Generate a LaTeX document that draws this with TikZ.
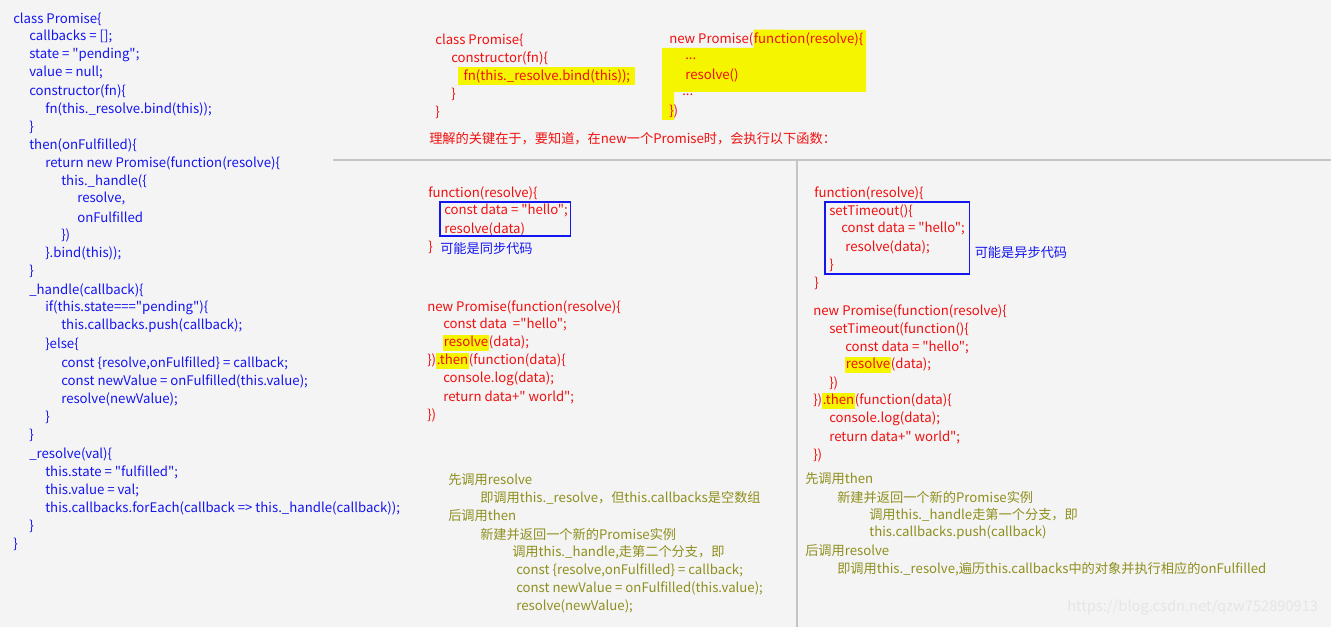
\documentclass[tikz,border=0pt]{standalone}
\usepackage{fontspec}
\setmainfont{Noto Sans CJK SC}[Ligatures=TeXOff]
\definecolor{bg}{HTML}{F4F4F4}
\definecolor{cb}{HTML}{1515F0}
\definecolor{cr}{HTML}{F01010}
\definecolor{co}{HTML}{8F8F1F}
\definecolor{hl}{HTML}{F5F500}
\definecolor{sep}{HTML}{C4C4C4}
\newcommand{\hlt}[1]{{\setlength{\fboxsep}{0.5pt}\colorbox{hl}{\strut #1}}}
\begin{document}
\begin{tikzpicture}[x=0.75pt,y=-0.75pt,
  c/.style={anchor=west,inner sep=0pt,font=\fontsize{9.9}{11}\selectfont},
  b/.style={c,text=cb}, r/.style={c,text=cr}, o/.style={c,text=co}]
\fill[bg] (0,0) rectangle (1331,627);
\useasboundingbox (0,0) rectangle (1331,627);
% separators
\draw[sep,line width=0.9pt] (333,160) coordinate (h1) -- (1331,160) coordinate (h2);
\draw[sep,line width=0.9pt] (797,160) coordinate (v1) -- (797,627) coordinate (v2);
% left column
\node[b] (a1) at (13,19) {class Promise\{};
\node[b] (a2) at (29,37) {callbacks = [];};
\node[b] (a3) at (29,55) {state = "pending";};
\node[b] (a4) at (29,73) {value = null;};
\node[b] (a5) at (29,91) {constructor(fn)\{};
\node[b] (a6) at (45,109) {fn(this.\_resolve.bind(this));};
\node[b] (a7) at (29,127) {\}};
\node[b] (a8) at (29,145) {then(onFulfilled)\{};
\node[b] (a9) at (45,163) {return new Promise(function(resolve)\{};
\node[b] (a10) at (61,181) {this.\_handle(\{};
\node[b] (a11) at (77,199) {resolve,};
\node[b] (a12) at (77,217) {onFulfilled};
\node[b] (a13) at (61,235) {\})};
\node[b] (a14) at (45,253) {\}.bind(this));};
\node[b] (a15) at (29,271) {\}};
\node[b] (a16) at (29,290) {\_handle(callback)\{};
\node[b] (a17) at (45,308) {if(this.state==="pending")\{};
\node[b] (a18) at (61,326) {this.callbacks.push(callback);};
\node[b] (a19) at (45,344) {\}else\{};
\node[b] (a20) at (61,363) {const \{resolve,onFulfilled\} = callback;};
\node[b] (a21) at (61,381) {const newValue = onFulfilled(this.value);};
\node[b] (a22) at (61,399) {resolve(newValue);};
\node[b] (a23) at (45,417) {\}};
\node[b] (a24) at (29,435) {\}};
\node[b] (a25) at (29,454) {\_resolve(val)\{};
\node[b] (a26) at (45,472) {this.state = "fulfilled";};
\node[b] (a27) at (45,490) {this.value = val;};
\node[b] (a28) at (45,508) {this.callbacks.forEach(callback => this.\_handle(callback));};
\node[b] (a29) at (29,526) {\}};
\node[b] (a30) at (13,544) {\}};
% top middle
\node[r] (t1) at (435,40) {class Promise\{};
\node[r] (t2) at (451,58) {constructor(fn)\{};
\node[r,fill=hl,inner xsep=4pt,minimum height=13.5pt] (t3) at (458,76) {fn(this.\_resolve.bind(this));};
\node[r] (t4) at (451,94) {\}};
\node[r] (t5) at (435,112) {\}};
\path (669,39) node[r] (u1) {new Promise(} (u1.east) node[r] (u1b) {\phantom{function(resolve)\{}};
\fill[hl] ([yshift=7pt]u1b.west) -- (866,30) -- (866,92) -- (674,92) -- (674,120) -- (662,120) -- (662,48) -- (u1b.west |- 0,48) -- cycle;
\node[r] at (u1b.west) {function(resolve)\{};
\node[r] (u2) at (685,59) {...};
\node[r] (u3) at (685,75) {resolve()};
\node[r] (u4) at (682,95) {...};
\node[r] (u5) at (669,111) {\})};
\node[r] (cap) at (429,139) {理解的关键在于，要知道，在new一个Promise时，会执行以下函数：};
% middle block
\node[r] (m1) at (428,193) {function(resolve)\{};
\node[r] (m2) at (444,211) {const data = "hello";};
\node[r] (m3) at (444,229) {resolve(data)};
\draw[cb,line width=0.9pt] (440,202) rectangle ([xshift=2pt]m2.east |- 0,236);
\node[r] (m4) at (428,247) {\}};
\node[b] (m5) at (440,248) {可能是同步代码};
\node[r] (n1) at (427,307) {new Promise(function(resolve)\{};
\node[r] (n2) at (443,325) {const data \ ="hello";};
\node[r] (n3) at (443,343) {\hlt{resolve}(data);};
\node[r] (n4) at (427,361) {\})\hlt{.then}(function(data)\{};
\node[r] (n5) at (443,379) {console.log(data);};
\node[r] (n6) at (443,397) {return data+" world";};
\node[r] (n7) at (427,415) {\})};
\node[o] (p1) at (448,480) {先调用resolve};
\node[o] (p2) at (480,498) {即调用this.\_resolve，但this.callbacks是空数组};
\node[o] (p3) at (448,516) {后调用then};
\node[o] (p4) at (480,534) {新建并返回一个新的Promise实例};
\node[o] (p5) at (512,552) {调用this.\_handle,走第二个分支，即};
\node[o] (p6) at (516,570) {const \{resolve,onFulfilled\} = callback;};
\node[o] (p7) at (516,588) {const newValue = onFulfilled(this.value);};
\node[o] (p8) at (516,606) {resolve(newValue);};
% right block
\node[r] (k1) at (814,193) {function(resolve)\{};
\node[r] (k2) at (829,211) {setTimeout()\{};
\node[r] (k3) at (841,229) {const data = "hello";};
\node[r] (k4) at (845,247) {resolve(data);};
\node[r] (k5) at (829,265) {\}};
\node[r] (k6) at (814,283) {\}};
\draw[cb,line width=0.9pt] (825,202) rectangle ([xshift=3pt]k3.east |- 0,274) coordinate (kb);
\node[b] (k7) at ([xshift=4pt]kb |- 0,252) {可能是异步代码};
\node[r] (s1) at (813,311) {new Promise(function(resolve)\{};
\node[r] (s2) at (829,329) {setTimeout(function()\{};
\node[r] (s3) at (845,347) {const data = "hello";};
\node[r] (s4) at (845,365) {\hlt{resolve}(data);};
\node[r] (s5) at (829,383) {\})};
\node[r] (s6) at (813,401) {\})\hlt{.then}(function(data)\{};
\node[r] (s7) at (829,419) {console.log(data);};
\node[r] (s8) at (829,437) {return data+" world";};
\node[r] (s9) at (813,455) {\})};
\node[o] (q1) at (805,479) {先调用then};
\node[o] (q2) at (837,497) {新建并返回一个新的Promise实例};
\node[o] (q3) at (869,515) {调用this.\_handle走第一个分支，即};
\node[o] (q4) at (869,533) {this.callbacks.push(callback)};
\node[o] (q5) at (805,551) {后调用resolve};
\node[o] (q6) at (837,569) {即调用this.\_resolve,遍历this.callbacks中的对象并执行相应的onFulfilled};
\node[c,text=white!80!gray,font=\fontsize{11}{12}\selectfont] (w) at (1067,607) {https://blog.csdn.net/qzw752890913};
\end{tikzpicture}
\end{document}
